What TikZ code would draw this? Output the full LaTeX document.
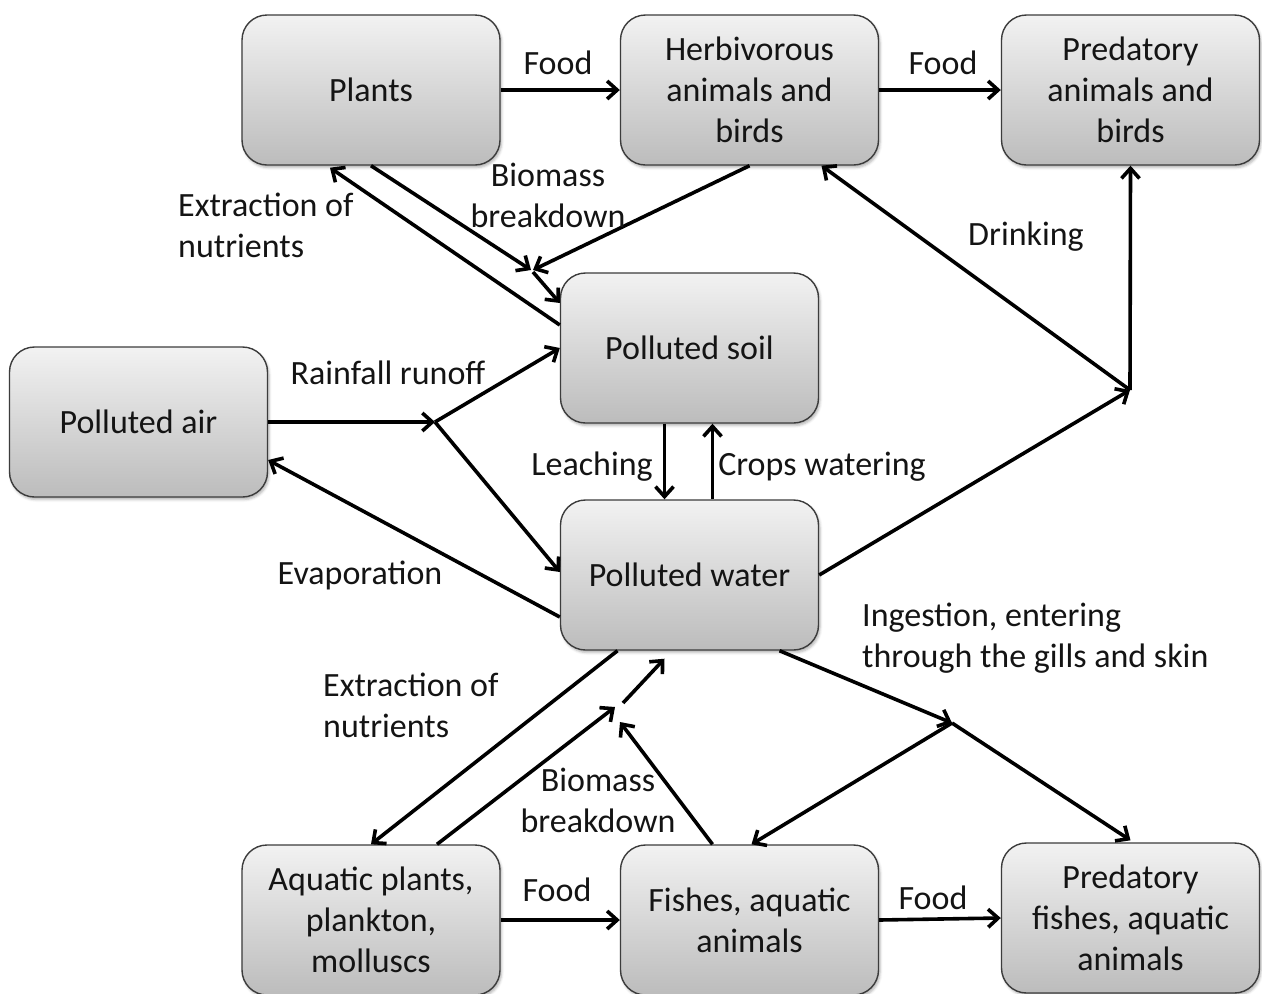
\documentclass[tikz,border=0pt]{standalone}
\usepackage{fontspec}
\setmainfont{Carlito}
\usetikzlibrary{arrows.meta,shadows.blur}
\definecolor{boxtop}{RGB}{242,242,242}
\definecolor{boxbot}{RGB}{188,188,188}
\definecolor{boxline}{RGB}{60,60,60}
\definecolor{txt}{RGB}{20,20,20}
\begin{document}
\begin{tikzpicture}[x=1pt,y=-1pt,
 box/.style={draw=boxline, line width=1.4pt, rounded corners=25pt, top color=boxtop, bottom color=boxbot,
   minimum width=258pt, minimum height=150pt, inner sep=0pt, align=center, text=txt,
   font=\fontsize{34}{41}\selectfont,
   blur shadow={shadow xshift=1.5pt, shadow yshift=-2.5pt, shadow opacity=30, shadow blur radius=2.5pt}},
 lbl/.style={font=\fontsize{34}{41}\selectfont, inner sep=0pt, text=txt},
 arr/.style={line width=3.6pt, -{Straight Barb[length=10pt,width=18pt]}}]
\useasboundingbox (0,0) rectangle (1262,994);
% boxes
\node[box] (plants) at (371,90) {Plants};
\node[box] (herb) at (749.5,90) {Herbivorous\\animals and\\birds};
\node[box] (pred) at (1130.5,90) {Predatory\\animals and\\birds};
\node[box] (soil) at (689.5,348) {Polluted soil};
\node[box] (air) at (138.5,422) {Polluted air};
\node[box] (water) at (689.5,575) {Polluted water};
\node[box] (aqua) at (371,920) {Aquatic plants,\\plankton,\\molluscs};
\node[box] (fish) at (749.5,920) {Fishes, aquatic\\animals};
\node[box] (pfish) at (1130.5,918) {Predatory\\fishes, aquatic\\animals};
% junction points
\coordinate (mb) at (531,270);
\coordinate (rb) at (435,422);
\coordinate (db) at (1130,390);
\coordinate (ib) at (952,723);
\coordinate (ma) at (615,707);
\coordinate (mf) at (620,722);
\coordinate (mo) at (623,703);
% top food chain
\draw[arr] (plants.east) -- (herb.west);
\draw[arr] (herb.east) -- (pred.west);
% biomass breakdown to soil
\draw[arr] (plants.south) -- (mb);
\draw[arr] (herb.south) -- ([xshift=2pt]mb);
\draw[arr] ([xshift=2pt,yshift=-2pt]mb) -- ([yshift=45pt]soil.west);
% extraction of nutrients
\draw[arr] ([yshift=23pt]soil.west) -- ([xshift=-41pt,yshift=-2pt]plants.south);
% rainfall runoff
\draw[arr] (air.east) -- (rb);
\draw[arr] (rb) -- (soil.west);
\draw[arr] (rb) -- ([yshift=3pt]water.west);
% evaporation
\draw[arr] ([yshift=-42pt]water.west) -- ([yshift=-38pt]air.east);
% leaching / crops watering
\draw[arr] ([xshift=-25pt]soil.south) -- ([xshift=-25pt]water.north);
\draw[arr] ([xshift=23pt]water.north) -- ([xshift=23pt]soil.south);
% drinking
\draw[arr] (water.east) -- (db);
\draw[arr] (db) -- (pred.south);
\draw[arr] (db) -- ([xshift=72pt]herb.south);
% ingestion
\draw[arr] ([xshift=90pt]water.south) -- (ib);
\draw[arr] (ib) -- ([yshift=2pt]pfish.north);
\draw[arr] (ib) -- ([xshift=2pt]fish.north);
% lower extraction / biomass
\draw[arr] ([xshift=-72pt]water.south) -- (aqua.north);
\draw[arr] ([xshift=66pt]aqua.north) -- (ma);
\draw[arr] ([xshift=-37pt]fish.north) -- (mf);
\draw[arr] (mo) -- ([xshift=-25pt,yshift=-8pt]water.south);
% bottom food chain
\draw[arr] (aqua.east) -- (fish.west);
\draw[arr] (fish.east) -- (pfish.west);
% labels
\node[lbl] (l1) at (558,63) {Food};
\node[lbl] (l2) at (943,63) {Food};
\node[lbl, align=center] (l3) at (548,195) {Biomass\\breakdown};
\node[lbl, align=left, anchor=west] (l4) at (178,225) {Extraction of\\nutrients};
\node[lbl] (l5) at (1026,237) {Drinking};
\node[lbl] (l6) at (388,373) {Rainfall runoff};
\node[lbl] (l7) at (360,575) {Evaporation};
\node[lbl] (l8) at (592,467) {Leaching};
\node[lbl] (l9) at (822,467) {Crops watering};
\node[lbl, align=left, anchor=west] (l10) at (862,638) {Ingestion, entering\\through the gills and skin};
\node[lbl, align=left, anchor=west] (l11) at (323,705) {Extraction of\\nutrients};
\node[lbl, align=center] (l12) at (598,800) {Biomass\\breakdown};
\node[lbl] (l13) at (557,890) {Food};
\node[lbl] (l14) at (933,898) {Food};
\end{tikzpicture}
\end{document}
